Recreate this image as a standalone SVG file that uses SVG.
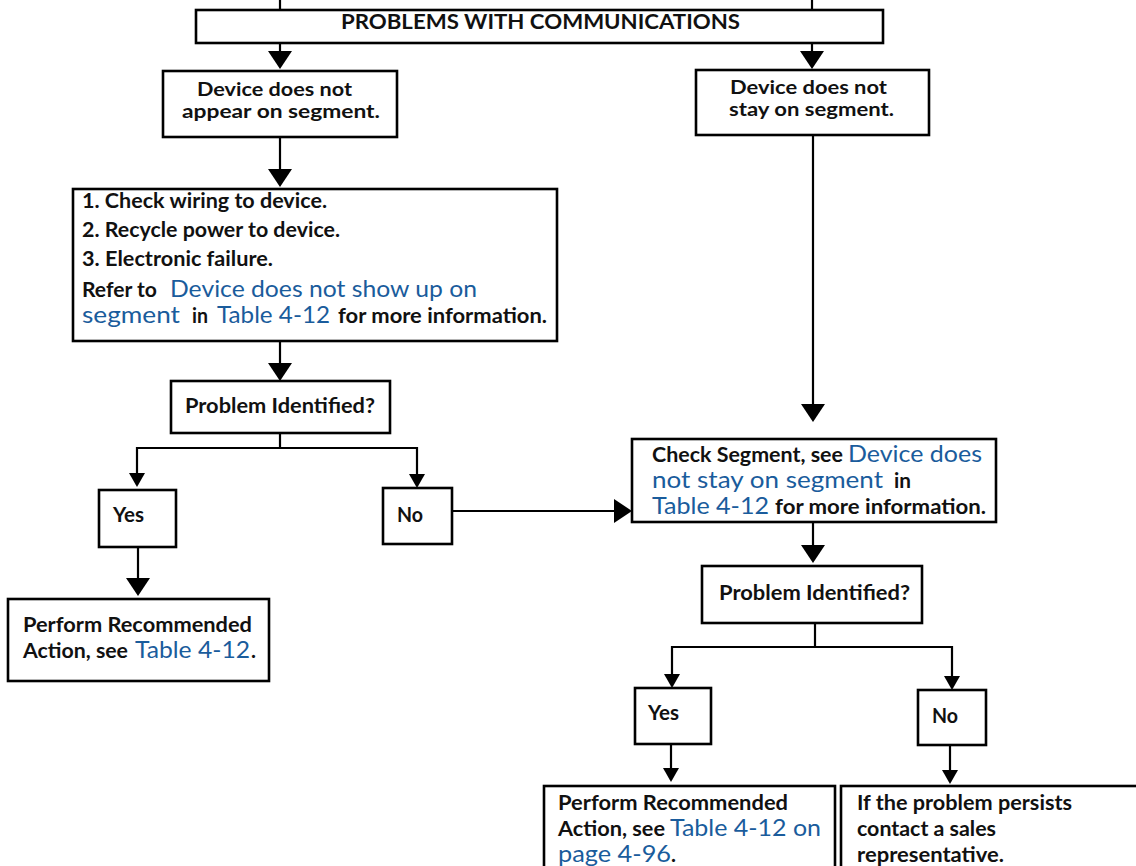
<svg xmlns="http://www.w3.org/2000/svg" width="1136" height="866" viewBox="0 0 1136 866">
  <style>
    .box { fill: #ffffff; stroke: #000000; stroke-width: 2.6; }
    .k { font-family: Lato, "Liberation Sans", "DejaVu Sans", sans-serif; font-weight: 700; font-size: 21px; fill: #111111; }
    .k2 { font-size: 18px; }
    .lk { font-family: Lato, "Liberation Sans", "DejaVu Sans", sans-serif; font-weight: 400; font-size: 23px; fill: #1a5c9c; }
    .conn path { fill: none; stroke: #000000; stroke-width: 2.2; }
    .tick { stroke-width: 1.6; }
  </style>
  <defs>
    <marker id="arrowBig" markerUnits="userSpaceOnUse" markerWidth="18" markerHeight="24" refX="16" refY="12" orient="auto">
      <path d="M0,0 L18,12 L0,24 Z" fill="#000000"/>
    </marker>
    <marker id="arrowSmall" markerUnits="userSpaceOnUse" markerWidth="14" markerHeight="16" refX="12" refY="8" orient="auto">
      <path d="M0,0 L14,8 L0,16 Z" fill="#000000"/>
    </marker>
  </defs>

  <rect width="1136" height="866" fill="#ffffff"/>

  <!-- connectors -->
  <g id="connectors" class="conn">
    <path class="tick" d="M280,0 V10"/>
    <path class="tick" d="M812,0 V10"/>
    <path d="M280,43 V67" marker-end="url(#arrowBig)"/>
    <path d="M812,43 V67" marker-end="url(#arrowBig)"/>
    <path d="M280,137 V185" marker-end="url(#arrowBig)"/>
    <path d="M280,341 V379" marker-end="url(#arrowBig)"/>
    <path d="M280,431 V448"/>
    <path d="M137,448 H417"/>
    <path d="M137,447 V485" marker-end="url(#arrowSmall)"/>
    <path d="M417,447 V486" marker-end="url(#arrowSmall)"/>
    <path d="M138,547 V594" marker-end="url(#arrowBig)"/>
    <path d="M450,511 H630" marker-end="url(#arrowBig)"/>
    <path d="M813,135 V420" marker-end="url(#arrowBig)"/>
    <path d="M813,521 V561" marker-end="url(#arrowBig)"/>
    <path d="M815,623 V647"/>
    <path d="M672,647 H952"/>
    <path d="M672,646 V686" marker-end="url(#arrowSmall)"/>
    <path d="M952,646 V688" marker-end="url(#arrowSmall)"/>
    <path d="M671,742 V780" marker-end="url(#arrowSmall)"/>
    <path d="M950,743 V782" marker-end="url(#arrowSmall)"/>
  </g>

  <!-- title -->
  <g id="title">
    <rect class="box" x="196" y="10" width="687" height="33"/>
    <text class="k" x="341" y="29" textLength="399" lengthAdjust="spacingAndGlyphs">PROBLEMS WITH COMMUNICATIONS</text>
  </g>

  <g id="notAppear">
    <rect class="box" x="163" y="71" width="234" height="66"/>
    <text class="k k2" x="197" y="96" textLength="155" lengthAdjust="spacingAndGlyphs">Device does not</text>
    <text class="k k2" x="182" y="118" textLength="198" lengthAdjust="spacingAndGlyphs">appear on segment.</text>
  </g>

  <g id="notStay">
    <rect class="box" x="696" y="70" width="233" height="65"/>
    <text class="k k2" x="730" y="94" textLength="157" lengthAdjust="spacingAndGlyphs">Device does not</text>
    <text class="k k2" x="729" y="116" textLength="165" lengthAdjust="spacingAndGlyphs">stay on segment.</text>
  </g>

  <g id="checkDevice">
    <rect class="box" x="73" y="189" width="484" height="152"/>
    <text class="k" x="82" y="208" textLength="245" lengthAdjust="spacingAndGlyphs">1. Check wiring to device.</text>
    <text class="k" x="82" y="237" textLength="258" lengthAdjust="spacingAndGlyphs">2. Recycle power to device.</text>
    <text class="k" x="82" y="266" textLength="191" lengthAdjust="spacingAndGlyphs">3. Electronic failure.</text>
    <text class="k" x="82" y="297" textLength="75" lengthAdjust="spacingAndGlyphs">Refer to</text>
    <text class="lk" x="170" y="297" textLength="307" lengthAdjust="spacingAndGlyphs">Device does not show up on</text>
    <text class="lk" x="82" y="323" textLength="98" lengthAdjust="spacingAndGlyphs">segment</text>
    <text class="k" x="192" y="323" textLength="16" lengthAdjust="spacingAndGlyphs">in</text>
    <text class="lk" x="217" y="323" textLength="113" lengthAdjust="spacingAndGlyphs">Table 4-12</text>
    <text class="k" x="338" y="323" textLength="209" lengthAdjust="spacingAndGlyphs">for more information.</text>
  </g>

  <g id="identified1">
    <rect class="box" x="171" y="381" width="219" height="52"/>
    <text class="k" x="185" y="413" textLength="190" lengthAdjust="spacingAndGlyphs">Problem Identified?</text>
  </g>

  <g id="yes1">
    <rect class="box" x="99" y="490" width="77" height="57"/>
    <text class="k" x="113" y="522" textLength="31" lengthAdjust="spacingAndGlyphs">Yes</text>
  </g>

  <g id="no1">
    <rect class="box" x="383" y="488" width="69" height="56"/>
    <text class="k" x="397" y="522" textLength="26" lengthAdjust="spacingAndGlyphs">No</text>
  </g>

  <g id="action1">
    <rect class="box" x="8" y="599" width="261" height="82"/>
    <text class="k" x="23" y="632" textLength="229" lengthAdjust="spacingAndGlyphs">Perform Recommended</text>
    <text class="k" x="23" y="658" textLength="105" lengthAdjust="spacingAndGlyphs">Action, see</text>
    <text class="lk" x="135" y="658" textLength="115" lengthAdjust="spacingAndGlyphs">Table 4-12</text>
    <text class="k" x="251" y="658">.</text>
  </g>

  <g id="checkSegment">
    <rect class="box" x="632" y="439" width="364" height="83"/>
    <text class="k" x="652" y="462" textLength="191" lengthAdjust="spacingAndGlyphs">Check Segment, see</text>
    <text class="lk" x="848" y="462" textLength="134" lengthAdjust="spacingAndGlyphs">Device does</text>
    <text class="lk" x="652" y="488" textLength="231" lengthAdjust="spacingAndGlyphs">not stay on segment</text>
    <text class="k" x="894" y="488" textLength="17" lengthAdjust="spacingAndGlyphs">in</text>
    <text class="lk" x="652" y="514" textLength="117" lengthAdjust="spacingAndGlyphs">Table 4-12</text>
    <text class="k" x="775" y="514" textLength="211" lengthAdjust="spacingAndGlyphs">for more information.</text>
  </g>

  <g id="identified2">
    <rect class="box" x="702" y="566" width="220" height="57"/>
    <text class="k" x="719" y="600" textLength="191" lengthAdjust="spacingAndGlyphs">Problem Identified?</text>
  </g>

  <g id="yes2">
    <rect class="box" x="635" y="688" width="76" height="56"/>
    <text class="k" x="648" y="720" textLength="31" lengthAdjust="spacingAndGlyphs">Yes</text>
  </g>

  <g id="no2">
    <rect class="box" x="918" y="690" width="68" height="55"/>
    <text class="k" x="932" y="723" textLength="26" lengthAdjust="spacingAndGlyphs">No</text>
  </g>

  <g id="action2">
    <rect class="box" x="544" y="786" width="291" height="90"/>
    <text class="k" x="558" y="810" textLength="230" lengthAdjust="spacingAndGlyphs">Perform Recommended</text>
    <text class="k" x="558" y="836" textLength="107" lengthAdjust="spacingAndGlyphs">Action, see</text>
    <text class="lk" x="670" y="836" textLength="151" lengthAdjust="spacingAndGlyphs">Table 4-12 on</text>
    <text class="lk" x="558" y="862" textLength="113" lengthAdjust="spacingAndGlyphs">page 4-96</text>
    <text class="k" x="671" y="862">.</text>
  </g>

  <g id="contactSales">
    <rect class="box" x="841" y="786" width="300" height="90"/>
    <text class="k" x="857" y="810" textLength="215" lengthAdjust="spacingAndGlyphs">If the problem persists</text>
    <text class="k" x="857" y="836" textLength="139" lengthAdjust="spacingAndGlyphs">contact a sales</text>
    <text class="k" x="857" y="862" textLength="147" lengthAdjust="spacingAndGlyphs">representative.</text>
  </g>
</svg>
